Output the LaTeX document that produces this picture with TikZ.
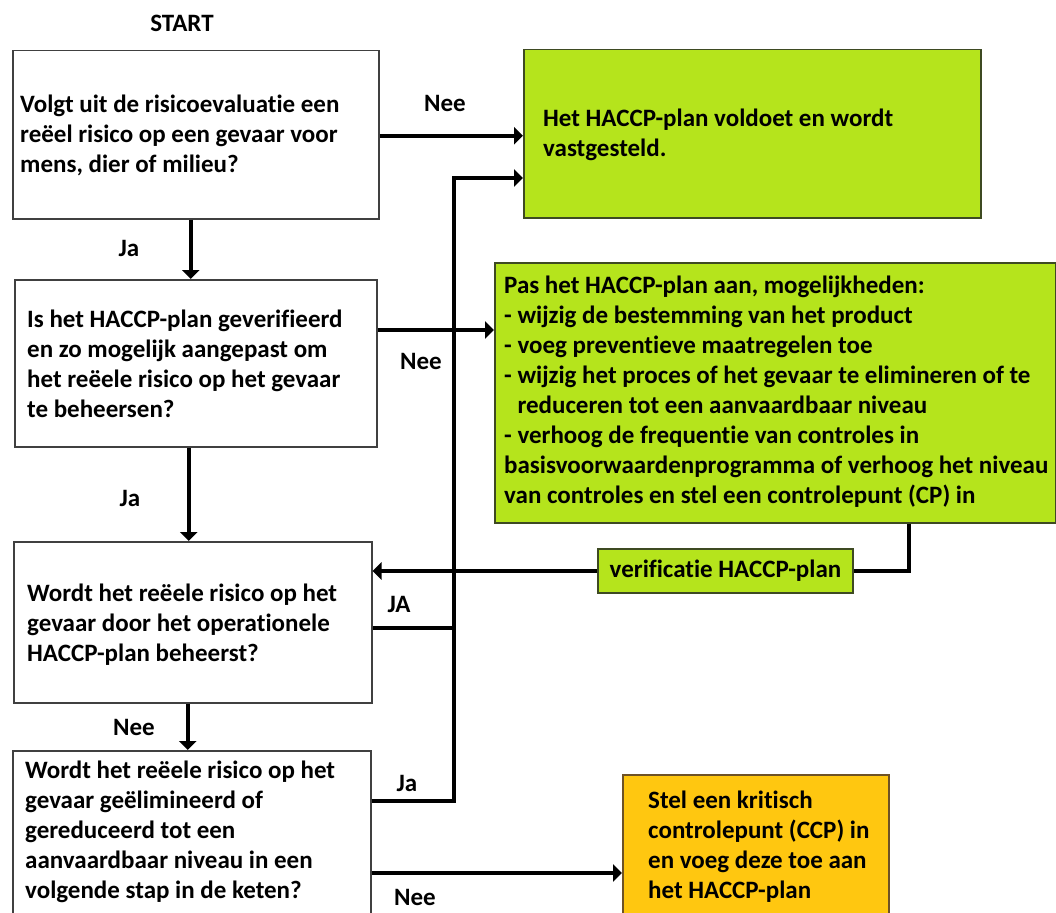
\documentclass[tikz,border=0pt]{standalone}
\usepackage{fontspec}
\setmainfont{Carlito}[RawFeature=-liga]
\usetikzlibrary{arrows.meta}
\definecolor{haccpgreen}{HTML}{B5E41C}
\definecolor{haccporange}{HTML}{FFC710}
\definecolor{gborder}{HTML}{3E4A22}
\definecolor{oborder}{HTML}{6E5226}
\definecolor{wborder}{HTML}{404040}
\newcommand{\boxlines}[1]{\parbox[t]{600pt}{\raggedright #1}}
\begin{document}
\begin{tikzpicture}[x=1pt,y=-1pt,
  every node/.style={font=\fontsize{25}{30}\selectfont\bfseries},
  box/.style={draw=wborder, line width=1.5pt, fill=white, inner sep=0pt, anchor=north west, rectangle},
  gbox/.style={box, draw=gborder, fill=haccpgreen},
  obox/.style={box, draw=oborder, fill=haccporange},
  txt/.style={anchor=base west, inner sep=0pt},
  lbl/.style={inner sep=0pt},
  conn/.style={line width=4pt},
  arr/.style={conn, -{Triangle[width=17pt,length=9pt]}}]
\useasboundingbox (0,0) rectangle (1056,912);
\fill[white] (0,0) rectangle (1056,912);
\begin{scope}
\clip (0,0) rectangle (1056,912);
% boxes
\node[box, minimum width=366pt, minimum height=168pt] (b1) at (12,50) {};
\node[box, minimum width=362pt, minimum height=167pt] (b2) at (14,279) {};
\node[box, minimum width=358pt, minimum height=161pt] (b3) at (13,541) {};
\node[box, minimum width=358pt, minimum height=200pt] (b4) at (12,750) {};
\node[gbox, minimum width=457pt, minimum height=168pt] (g1) at (523,49) {};
\node[gbox, minimum width=561pt, minimum height=260pt] (g2) at (494,262) {};
\node[obox, minimum width=266pt, minimum height=190pt] (or) at (622,774) {};
\node[gbox, anchor=center, minimum width=255pt, minimum height=44pt] (ver) at (725.5,571) {verificatie HACCP-plan};
% texts
\node[txt] (t1) at (20,113) {\boxlines{Volgt uit de risicoevaluatie een\\reëel risico op een gevaar voor\\mens, dier of milieu?}};
\node[txt] (t2) at (27,327) {\boxlines{Is het HACCP-plan geverifieerd\\en zo mogelijk aangepast om\\het reëele risico op het gevaar\\te beheersen?}};
\node[txt] (t3) at (27,601) {\boxlines{Wordt het reëele risico op het\\gevaar door het operationele\\HACCP-plan beheerst?}};
\node[txt] (t4) at (25,778) {\boxlines{Wordt het reëele risico op het\\gevaar geëlimineerd of\\gereduceerd tot een\\aanvaardbaar niveau in een\\volgende stap in de keten?}};
\node[txt] (tg1) at (543,127) {\boxlines{Het HACCP-plan voldoet en wordt\\vastgesteld.}};
\node[txt] (tg2) at (504,293) {\boxlines{Pas het HACCP-plan aan, mogelijkheden:\\- wijzig de bestemming van het product\\- voeg preventieve maatregelen toe\\- wijzig het proces of het gevaar te elimineren of te\\\hphantom{- }reduceren tot een aanvaardbaar niveau\\- verhoog de frequentie van controles in\\basisvoorwaardenprogramma of verhoog het niveau\\van controles en stel een controlepunt (CP) in}};
\node[txt] (to) at (648,808) {\boxlines{Stel een kritisch\\controlepunt (CCP) in\\en voeg deze toe aan\\het HACCP-plan}};
% labels
\node[lbl] (start) at (182,23) {START};
\node[lbl] (l1) at (445,103) {Nee};
\node[lbl] (l2) at (129,248) {Ja};
\node[lbl] (l3) at (421,361) {Nee};
\node[lbl] (l4) at (130,498) {Ja};
\node[lbl] (l5) at (399,604) {JA};
\node[lbl] (l6) at (134,727) {Nee};
\node[lbl] (l7) at (407,783) {Ja};
\node[lbl] (l8) at (415,897) {Nee};
% connectors
\coordinate (bus) at (454,178);
\draw[arr] ([yshift=-1pt]b1.east) -- ([yshift=-1pt]b1.east -| g1.west);
\draw[arr] ([xshift=-5pt]b1.south) -- ([xshift=-5pt]b1.south |- b2.north);
\draw[arr] ([yshift=-51pt]b2.north east) -- ([yshift=-51pt]b2.north east -| g2.west);
\draw[arr] ([xshift=-7pt]b2.south) -- ([xshift=-7pt]b2.south |- b3.north);
\draw[arr] (ver.west) -- (ver.west -| b3.east);
\draw[conn] ([xshift=133.5pt]g2.south) |- (ver.east);
\draw[arr] ([yshift=-87pt]b3.north east) -| (bus) -- (bus -| g1.west);
\draw[conn] ([yshift=-51pt]b4.north east) -| (bus);
\draw[arr] ([xshift=-5pt]b3.south) -- ([xshift=-5pt]b3.south |- b4.north);
\draw[arr] ([yshift=-123pt]b4.north east) -- ([yshift=-123pt]b4.north east -| or.west);
\end{scope}
\end{tikzpicture}
\end{document}
